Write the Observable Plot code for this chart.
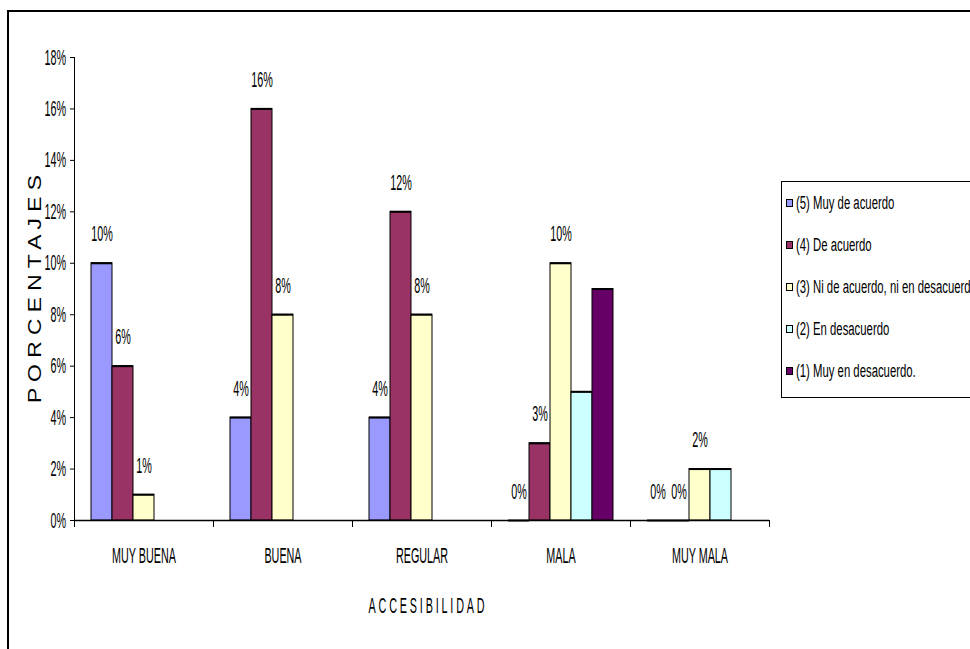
<!DOCTYPE html>
<html>
<head>
<meta charset="utf-8">
<script src="https://cdn.jsdelivr.net/npm/d3@7"></script>
<script src="https://cdn.jsdelivr.net/npm/@observablehq/plot@0.6"></script>
<style>
html,body{margin:0;padding:0;background:#fff;overflow:hidden;width:970px;height:649px;}
#wrap{position:relative;width:970px;height:649px;overflow:hidden;font-family:"Liberation Sans",Arial,sans-serif;}
#border{position:absolute;left:7px;top:10px;width:2000px;height:2000px;border-top:2px solid #000;border-left:2px solid #000;}
#chart{position:absolute;left:0;top:0;}
#legend{position:absolute;left:781px;top:181px;width:400px;height:215px;border:1px solid #000;background:#fff;}
.item{position:absolute;left:0;height:20px;white-space:nowrap;}
.sw{position:absolute;left:4px;top:6px;width:5px;height:6px;border:1px solid #000;}
.lt{position:absolute;left:14px;top:0;font-size:18px;line-height:20px;transform:scaleX(0.63);transform-origin:0 50%;color:#000;}
</style>
</head>
<body>
<div id="wrap">
  <div id="border"></div>
  <div id="chart"></div>
  <div id="legend"></div>
</div>
<script>
const categories = ["MUY BUENA", "BUENA", "REGULAR", "MALA", "MUY MALA"];
const seriesNames = ["(5) Muy de acuerdo", "(4) De acuerdo", "(3) Ni de acuerdo, ni en desacuerdo", "(2) En desacuerdo", "(1) Muy en desacuerdo."];
const seriesColors = ["#9999FF", "#993366", "#FFFFCC", "#CCFFFF", "#660066"];
const muyDeAcuerdo = [10, 4, 4, 0, 0];
const deAcuerdo = [6, 16, 12, 3, 0];
const niDeAcuerdo = [1, 8, 8, 10, 2];
const enDesacuerdo = [null, null, null, 5, 2];
const muyEnDesacuerdo = [null, null, null, 9, null];
const seriesLabeled = [true, true, true, false, false];
const yTicks = [0, 2, 4, 6, 8, 10, 12, 14, 16, 18];
const xTitle = "ACCESIBILIDAD";
const yTitle = "P O R C E N T A J E S";

const seriesValues = [muyDeAcuerdo, deAcuerdo, niDeAcuerdo, enDesacuerdo, muyEnDesacuerdo];
const rows = [];
seriesValues.forEach((vals, s) => {
  vals.forEach((v, c) => {
    if (v !== null) rows.push({category: categories[c], series: seriesNames[s], value: v, labeled: seriesLabeled[s]});
  });
});

const chart = Plot.plot({
  width: 970,
  height: 649,
  marginLeft: 74,
  marginRight: 200.5,
  marginTop: 57,
  marginBottom: 129,
  style: {fontFamily: '"Liberation Sans", Arial, sans-serif', fontSize: "22px", color: "#000", background: "transparent", overflow: "visible"},
  fx: {domain: categories, padding: 0, axis: "bottom", tickSize: 0, tickPadding: 26.4, label: xTitle, labelAnchor: "center", labelOffset: 92, labelArrow: "none"},
  x: {domain: seriesNames, axis: null, paddingInner: 0, paddingOuter: 0.78, align: 0.5},
  y: {domain: [0, 18], ticks: yTicks, tickFormat: d => d + "%", tickSize: 4, tickPadding: 4.5, label: yTitle, labelAnchor: "center", labelOffset: 45.7, labelArrow: "none"},
  color: {domain: seriesNames, range: seriesColors},
  marks: [
    Plot.barY(rows, {fx: "category", x: "series", y: "value", fill: "series", stroke: "#000", strokeWidth: 1}),
    Plot.tickY(rows, {fx: "category", x: "series", y: "value", stroke: "#000", strokeWidth: 2}),
    Plot.ruleY([0], {stroke: "#000", strokeWidth: 1.5}),
    Plot.frame({anchor: "left", facetAnchor: "left", stroke: "#000"}),
    Plot.frame({anchor: "left", insetTop: 463, insetBottom: -6, stroke: "#000"}),
    Plot.frame({anchor: "right", facetAnchor: "right", insetTop: 463, insetBottom: -6, stroke: "#000"}),
    Plot.text(rows.filter(d => d.labeled), {fx: "category", x: "series", y: "value", text: d => d.value + "%", dy: -29, fill: "#000", fontSize: 22})
  ]
});

const svg = chart.tagName.toLowerCase() === "svg" ? chart : chart.querySelector("svg");
function scaleText(t, sx, shift) {
  const x = parseFloat(t.getAttribute("x")) || 0;
  const y = parseFloat(t.getAttribute("y")) || 0;
  const tr = t.getAttribute("transform") || "";
  t.setAttribute("transform", `translate(${shift || 0},0) ${tr} translate(${x},${y}) scale(${sx},1) translate(${-x},${-y})`);
}
svg.querySelectorAll("text").forEach(t => {
  const g = t.closest("g[aria-label]");
  const lab = g ? g.getAttribute("aria-label") : "";
  if (lab === "y-axis label") {
    t.style.fontSize = "18.7px";
    scaleText(t, 1.22, -1);
  } else if (lab === "fx-axis label") {
    t.setAttribute("letter-spacing", "5.8");
    scaleText(t, 0.49, 6);
  } else {
    scaleText(t, 0.49, 0);
  }
});
document.getElementById("chart").appendChild(chart);

const legend = document.getElementById("legend");
seriesNames.forEach((name, i) => {
  const item = document.createElement("div");
  item.className = "item";
  item.style.top = (10.5 + 42 * i) + "px";
  const sw = document.createElement("div");
  sw.className = "sw";
  sw.style.background = seriesColors[i];
  const lt = document.createElement("div");
  lt.className = "lt";
  lt.textContent = name;
  item.appendChild(sw);
  item.appendChild(lt);
  legend.appendChild(item);
});
</script>
</body>
</html>
